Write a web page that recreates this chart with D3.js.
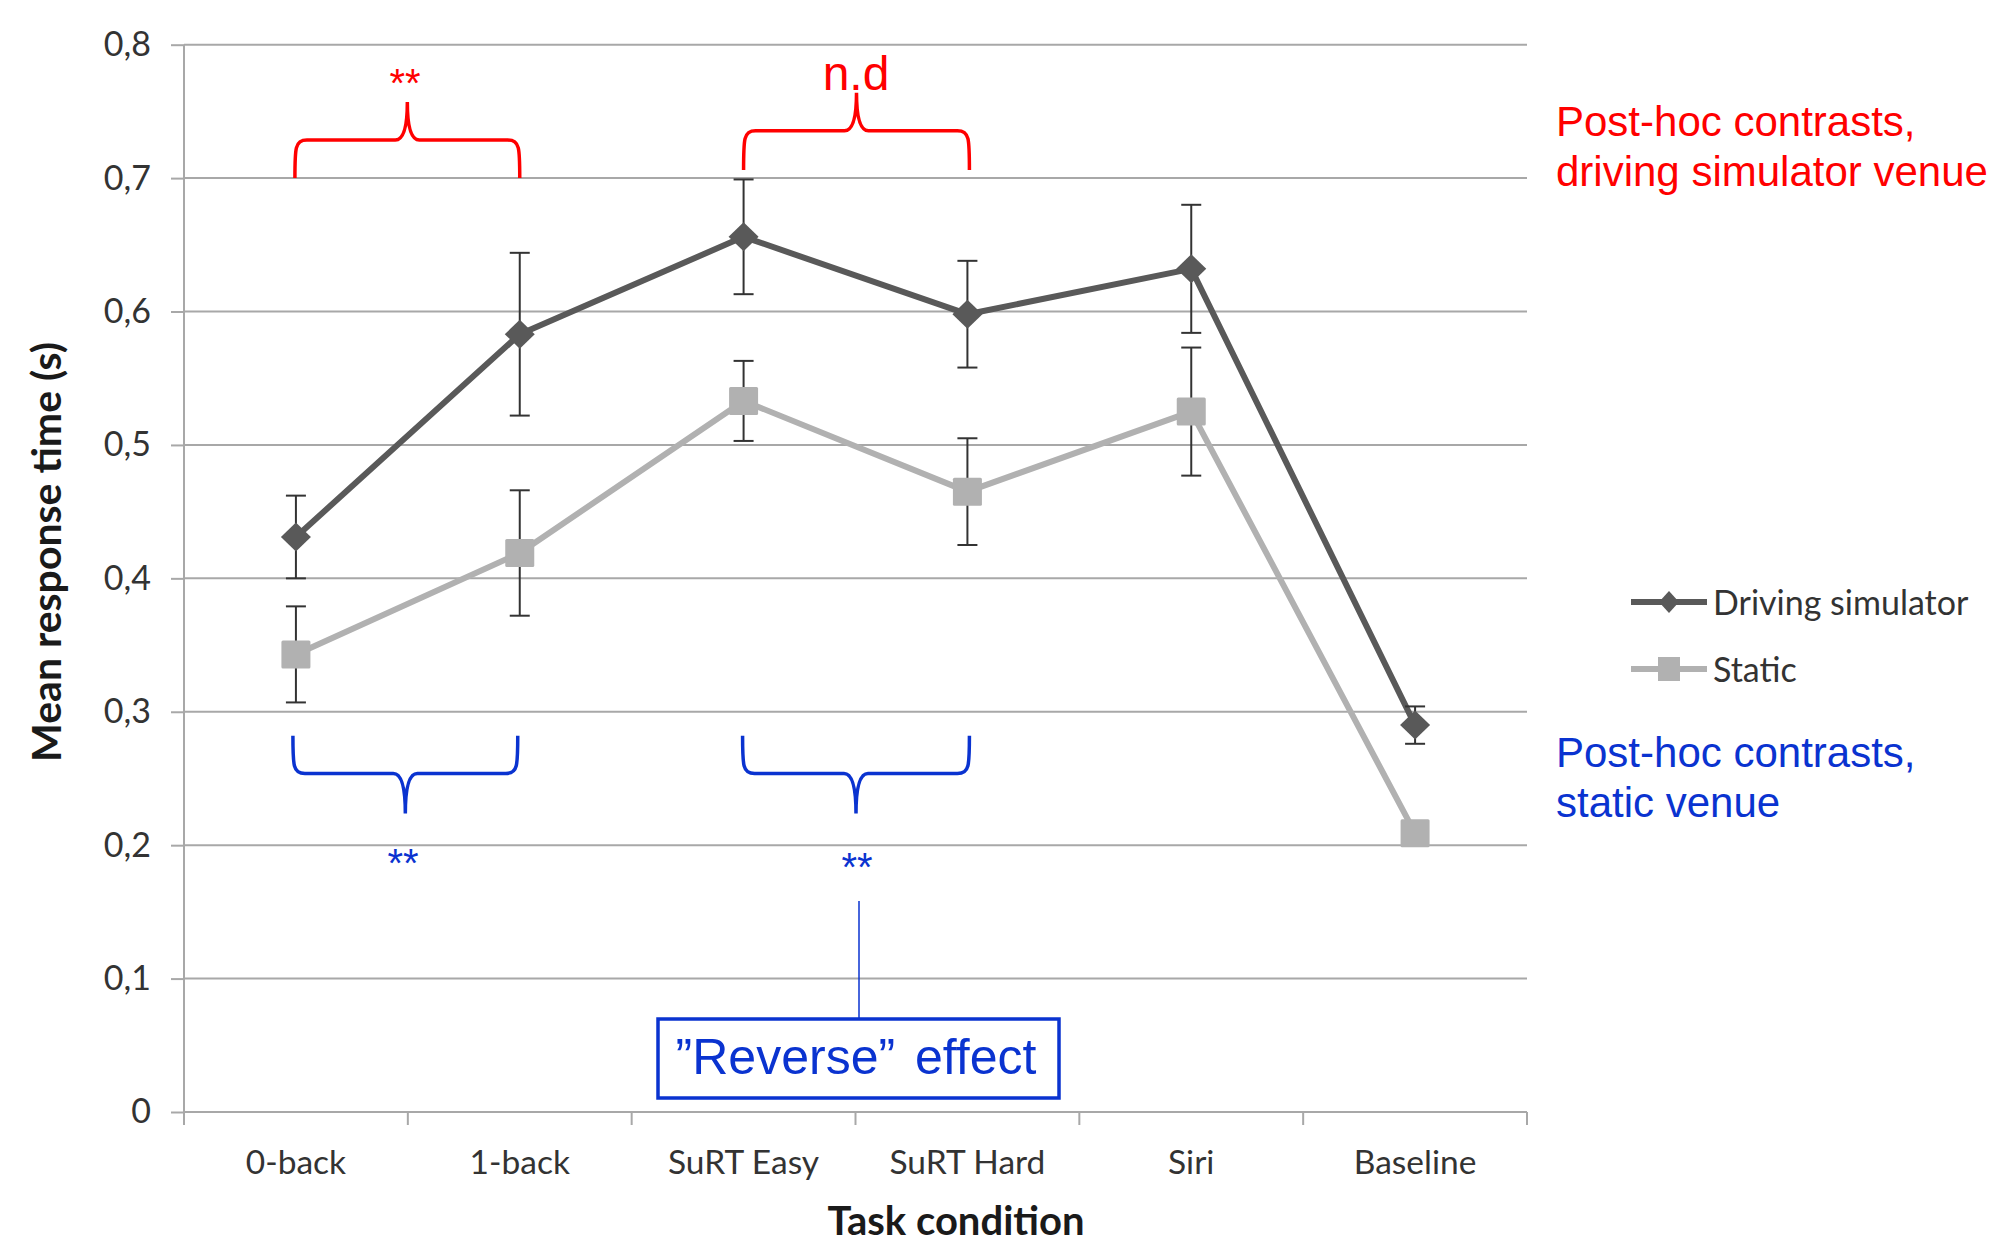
<!DOCTYPE html>
<html><head><meta charset="utf-8">
<script src="https://cdn.jsdelivr.net/npm/d3@7"></script>
<style>body{margin:0;background:#fff}svg{display:block}</style>
</head><body><svg id="c" width="2014" height="1244"></svg>
<script>
// ---- data ----
const categories = ["0-back", "1-back", "SuRT Easy", "SuRT Hard", "Siri", "Baseline"];
const drivingMean = [0.431, 0.583, 0.656, 0.598, 0.632, 0.290];
const drivingErr  = [0.031, 0.061, 0.043, 0.040, 0.048, 0.014];
const staticMean  = [0.343, 0.419, 0.533, 0.465, 0.525, 0.209];
const staticErr   = [0.036, 0.047, 0.030, 0.040, 0.048, 0.005];
const seriesNames = ["Driving simulator", "Static"];
const yTicks = [0, 0.1, 0.2, 0.3, 0.4, 0.5, 0.6, 0.7, 0.8];
const xTitle = "Task condition";
const yTitle = "Mean response time (s)";
const redNote = ["Post-hoc contrasts,", "driving simulator venue"];
const blueNote = ["Post-hoc contrasts,", "static venue"];
const boxNote = "\u201DReverse\u201D effect";

// ---- layout ----
const svg = d3.select("#c");
const L = 184, R = 1527, T = 44.7, B = 1112;
const x = d3.scaleBand().domain(categories).range([L, R]).padding(0);
const y = d3.scaleLinear().domain([0, 0.8]).range([B, T]);
const cx = c => x(c) + x.bandwidth() / 2;
const DARK = "#595959", LIGHT = "#b1b1b1", GRID = "#a8a8a8";
const RED = "#ff0000", BLUE = "#0a33d0";
const FONT = "Lato, 'Open Sans', sans-serif";
const ARIAL = "'Liberation Sans', Arial, sans-serif";
const fmt = d => d === 0 ? "0" : d3.format(".1f")(d).replace(".", ",");

// gridlines
svg.append("g").selectAll("line").data(yTicks.filter(d => d > 0)).join("line")
  .attr("x1", L).attr("x2", R).attr("y1", d => y(d)).attr("y2", d => y(d))
  .attr("stroke", GRID).attr("stroke-width", 2);

// y axis
const ya = svg.append("g").attr("transform", `translate(${L},0)`)
  .call(d3.axisLeft(y).tickValues(yTicks).tickFormat(fmt).tickSize(13).tickPadding(20));
ya.select(".domain").attr("stroke", GRID).attr("stroke-width", 2).attr("d", `M0,${T}V${B}`);
ya.selectAll(".tick line").attr("stroke", GRID).attr("stroke-width", 2);
ya.selectAll(".tick text").attr("font-family", FONT).attr("font-size", 34).attr("fill", "#333");

// x axis: baseline + boundary ticks
svg.append("line").attr("x1", L).attr("x2", R).attr("y1", B).attr("y2", B)
  .attr("stroke", GRID).attr("stroke-width", 2);
const bounds = categories.map(c => x(c)).concat([x(categories[categories.length - 1]) + x.bandwidth()]);
svg.append("g").selectAll("line").data(bounds).join("line")
  .attr("x1", d => d).attr("x2", d => d).attr("y1", B).attr("y2", B + 13)
  .attr("stroke", GRID).attr("stroke-width", 2);
svg.append("g").selectAll("text").data(categories).join("text")
  .attr("x", d => cx(d)).attr("y", 1174).attr("text-anchor", "middle")
  .attr("font-family", FONT).attr("font-size", 33.5).attr("fill", "#333").text(d => d);

// axis titles
svg.append("text").attr("x", 956).attr("y", 1235).attr("text-anchor", "middle")
  .attr("font-family", FONT).attr("font-weight", "bold").attr("font-size", 40).attr("fill", "#1a1a1a").text(xTitle);
svg.append("text").attr("transform", "translate(61,552) rotate(-90)").attr("text-anchor", "middle")
  .attr("font-family", FONT).attr("font-weight", "bold").attr("font-size", 41).attr("fill", "#1a1a1a").text(yTitle);

// series
const series = [
  {name: seriesNames[0], mean: drivingMean, err: drivingErr, color: DARK, shape: "diamond"},
  {name: seriesNames[1], mean: staticMean, err: staticErr, color: LIGHT, shape: "square"}
];
const line = d3.line().x((d, i) => cx(categories[i])).y(d => y(d));
const diamond = (px, py, w, h) => `M${px},${py - h}L${px + w},${py}L${px},${py + h}L${px - w},${py}Z`;

[series[1], series[0]].forEach(s => {
  svg.append("path").datum(s.mean).attr("d", line).attr("fill", "none")
    .attr("stroke", s.color).attr("stroke-width", 6).attr("stroke-linejoin", "round");
});
// error bars
series.forEach(s => {
  const g = svg.append("g").attr("stroke", "#333").attr("stroke-width", 2);
  s.mean.forEach((m, i) => {
    const px = cx(categories[i]);
    g.append("line").attr("x1", px).attr("x2", px).attr("y1", y(m + s.err[i])).attr("y2", y(m - s.err[i]));
    [m + s.err[i], m - s.err[i]].forEach(v =>
      g.append("line").attr("x1", px - 10).attr("x2", px + 10).attr("y1", y(v)).attr("y2", y(v)));
  });
});
// markers
series.forEach(s => {
  const g = svg.append("g");
  s.mean.forEach((m, i) => {
    const px = cx(categories[i]), py = y(m);
    if (s.shape === "diamond") g.append("path").attr("d", diamond(px, py, 15, 14.5)).attr("fill", s.color);
    else g.append("rect").attr("x", px - 14.5).attr("y", py - 14).attr("width", 29).attr("height", 28)
      .attr("rx", 1.5).attr("fill", s.color);
  });
});

// legend
const lg = svg.append("g");
series.forEach((s, i) => {
  const ly = i === 0 ? 602 : 669;
  lg.append("line").attr("x1", 1631).attr("x2", 1707).attr("y1", ly).attr("y2", ly)
    .attr("stroke", s.color).attr("stroke-width", 6);
  if (s.shape === "diamond") lg.append("path").attr("d", diamond(1669, ly, 10, 11)).attr("fill", s.color);
  else lg.append("rect").attr("x", 1658).attr("y", ly - 12).attr("width", 22).attr("height", 24).attr("fill", s.color);
  lg.append("text").attr("x", 1713).attr("y", ly + 13).attr("font-family", FONT).attr("font-size", 34)
    .attr("fill", "#333").text(s.name);
});

// braces
function brace(x1, x2, yEnd, yMid, yTip, color) {
  const c = (x1 + x2) / 2, r = 12, dir = Math.sign(yEnd - yMid);
  const p = `M${x1},${yEnd} C${x1},${yMid + dir * 8} ${x1},${yMid} ${x1 + r},${yMid} ` +
            `L${c - r},${yMid} Q${c},${yMid} ${c},${yTip} Q${c},${yMid} ${c + r},${yMid} ` +
            `L${x2 - r},${yMid} C${x2},${yMid} ${x2},${yMid + dir * 8} ${x2},${yEnd}`;
  svg.append("path").attr("d", p).attr("fill", "none").attr("stroke", color).attr("stroke-width", 3.5);
}
brace(cx("0-back") - 1, cx("1-back"), y(0.7), y(0.7285), y(0.757), RED);
brace(cx("SuRT Easy"), cx("SuRT Hard") + 2, y(0.706), y(0.7355), y(0.764), RED);
brace(cx("0-back") - 3, cx("1-back") - 2, y(0.282), y(0.2538), y(0.2237), BLUE);
brace(cx("SuRT Easy") - 1, cx("SuRT Hard") + 2, y(0.282), y(0.2538), y(0.2237), BLUE);

// stars and n.d
svg.append("text").attr("x", 405).attr("y", 97).attr("text-anchor", "middle")
  .attr("font-family", ARIAL).attr("font-size", 40).attr("fill", RED).text("**");
svg.append("text").attr("x", 856).attr("y", 90).attr("text-anchor", "middle")
  .attr("font-family", ARIAL).attr("font-size", 48).attr("fill", RED).text("n.d");
svg.append("text").attr("x", 403).attr("y", 877).attr("text-anchor", "middle")
  .attr("font-family", ARIAL).attr("font-size", 40).attr("fill", BLUE).text("**");
svg.append("text").attr("x", 857).attr("y", 881).attr("text-anchor", "middle")
  .attr("font-family", ARIAL).attr("font-size", 40).attr("fill", BLUE).text("**");

// side notes
redNote.forEach((t, i) => svg.append("text").attr("x", 1556).attr("y", 136 + i * 50)
  .attr("font-family", ARIAL).attr("font-size", 42).attr("fill", RED).text(t));
blueNote.forEach((t, i) => svg.append("text").attr("x", 1556).attr("y", 767 + i * 50)
  .attr("font-family", ARIAL).attr("font-size", 42).attr("fill", BLUE).text(t));

// reverse-effect box
svg.append("line").attr("x1", 859).attr("x2", 859).attr("y1", 901).attr("y2", 1019)
  .attr("stroke", BLUE).attr("stroke-width", 1.5);
svg.append("rect").attr("x", 658).attr("y", 1019).attr("width", 401).attr("height", 79)
  .attr("fill", "#fff").attr("stroke", BLUE).attr("stroke-width", 3.5);
svg.append("text").attr("x", 856).attr("y", 1074).attr("text-anchor", "middle")
  .attr("font-family", ARIAL).attr("font-size", 50).attr("word-spacing", 6).attr("fill", BLUE).text(boxNote);
</script></body></html>
